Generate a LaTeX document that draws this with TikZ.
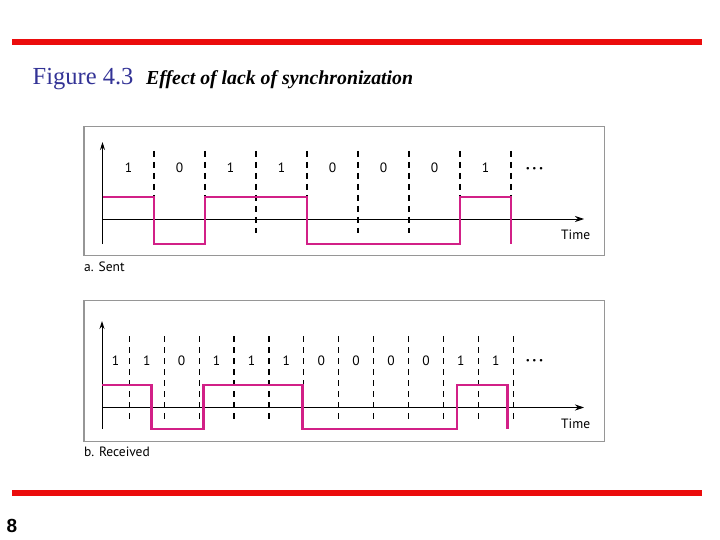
\documentclass[tikz,border=0pt]{standalone}
\usepackage{fontspec}
\setmainfont{Liberation Serif}
\newfontfamily\panelfont{PT Sans}
\newfontfamily\pagefont{Liberation Sans}
\usetikzlibrary{arrows.meta}

\definecolor{barred}{RGB}{235,12,12}
\definecolor{figblue}{RGB}{51,51,150}
\definecolor{sigpink}{RGB}{210,32,135}
\definecolor{framegray}{RGB}{150,150,150}

\newcommand{\moredots}{{\fontsize{9}{9}\selectfont\textbullet\kern2.5pt\textbullet\kern2.5pt\textbullet}}

\begin{document}
\begin{tikzpicture}[x=1pt, y=-1pt, >=Stealth,
  rule/.style={barred, line width=6pt},
  frame/.style={framegray, line width=1.3pt},
  axis/.style={line width=0.9pt},
  slot/.style={line width=1.2pt, dash pattern=on 6pt off 5pt},
  signal/.style={sigpink, line width=2.4pt, line join=miter},
  bit/.style={font=\panelfont\fontsize{13.5}{13.5}\selectfont, inner sep=0},
  caption/.style={font=\panelfont\fontsize{13.5}{13.5}\selectfont, anchor=base west, inner sep=0}]
  \useasboundingbox (0,0) rectangle (720,540);

  % Red rules at top and bottom
  \draw[rule] (12,42.5) -- (702,42.5);
  \draw[rule] (12,492.5) -- (702,492.5);

  % Title line
  \node[anchor=base west, inner sep=0, text=figblue, font=\fontsize{24.5}{24.5}\selectfont]
    (fignum) at (32.5,85) {Figure 4.3};
  \node[anchor=base west, inner sep=0, font=\bfseries\itshape\fontsize{19.8}{19.8}\selectfont]
    (figtitle) at (146,85) {Effect of lack of synchronization};

  % Page number
  \node[anchor=base west, inner sep=0, font=\pagefont\bfseries\fontsize{19}{19}\selectfont]
    (pagenum) at (6.5,532) {8};

  % ---------------- a. Sent ----------------
  \draw[frame] (84,126.5) rectangle (604.5,255.5);
  \node[caption] (senttxt) at (84,271.5) {a. Sent};

  % bit slots
  \foreach \x in {154,205,256,307,358,409,460,511}
    \draw[slot] (\x,151) -- (\x,233);

  % axes
  \draw[axis, -{Stealth[length=8pt,width=5pt]}] (102.5,244) -- (102.5,142);
  \draw[axis, -{Stealth[length=9pt,width=6pt]}] (102.5,219) -- (584,219);
  \node[anchor=base west, bit] (senttime) at (561,239.5) {Time};

  % bit values
  \foreach \b [count=\i from 0] in {1,0,1,1,0,0,0,1}
    \node[bit] (sbit\i) at (128.5+51*\i,168) {\b};
  \node[bit] (sdots) at (534.5,169) {\moredots};

  % sent signal
  \draw[signal] (102.5,197) -- (154,197) -- (154,244) -- (205,244) -- (205,197)
    -- (307,197) -- (307,244) -- (460,244) -- (460,197) -- (511,197) -- (511,244);

  % ---------------- b. Received ----------------
  \draw[frame] (84,300.5) rectangle (604.5,441.5);
  \node[caption] (recvtxt) at (84,456) {b. Received};

  % bit slots (shorter)
  \foreach \k in {1,...,12}
    \draw[slot] (94.4+34.9*\k,336) -- (94.4+34.9*\k,420);

  % axes
  \draw[axis, -{Stealth[length=8pt,width=5pt]}] (102,429) -- (102,321);
  \draw[axis, -{Stealth[length=9pt,width=6pt]}] (102,407.5) -- (584,407.5);
  \node[anchor=base west, bit] (recvtime) at (561,428) {Time};

  % bit values
  \node[bit] (rbit0) at (115.5,360.5) {1};
  \foreach \b [count=\i] in {1,0,1,1,1,0,0,0,0,1,1}
    \node[bit] (rbit\i) at (111.85+34.9*\i,360.5) {\b};
  \node[bit] (rdots) at (534.5,361) {\moredots};

  % received signal
  \draw[signal] (102,385) -- (151.5,385) -- (151.5,429) -- (203.5,429) -- (203.5,385)
    -- (302.5,385) -- (302.5,429) -- (457,429) -- (457,385) -- (507.5,385) -- (507.5,429);

\end{tikzpicture}
\end{document}
